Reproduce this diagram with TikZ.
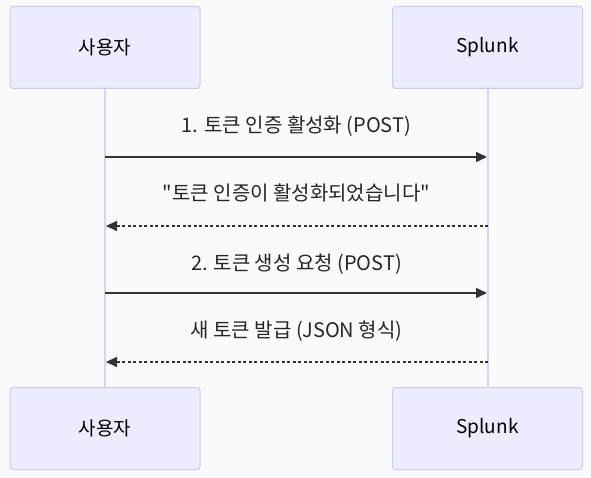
\documentclass[tikz,border=0pt]{standalone}
\usepackage{fontspec}
\setmainfont{Noto Sans CJK KR}[Ligatures=TeXOff]
\usetikzlibrary{arrows.meta}
\definecolor{bgc}{RGB}{250,250,250}
\definecolor{actfill}{RGB}{236,236,255}
\definecolor{actdraw}{RGB}{210,198,248}
\definecolor{lifec}{RGB}{220,210,248}
\definecolor{msgc}{RGB}{51,51,51}
\tikzset{
  actor/.style={draw=actdraw, line width=1pt, fill=actfill, rounded corners=3pt,
    minimum width=190pt, minimum height=82pt, inner sep=0pt,
    font=\fontsize{19}{22}\selectfont},
  lifeline/.style={draw=lifec, line width=2pt},
  msg/.style={draw=msgc, line width=1.6pt, -{Triangle[length=11pt,width=10pt]}},
  reply/.style={msg, dash pattern=on 3pt off 2.5pt},
  msglabel/.style={font=\fontsize{20}{23}\selectfont, text=black!85, inner sep=0pt}
}
\begin{document}
\begin{tikzpicture}[x=1pt,y=-1pt]
\fill[bgc] (0,0) rectangle (591,478);
\useasboundingbox (0,0) rectangle (591,478);
\node[actor] (ut) at (105,47.5) {사용자};
\node[actor] (st) at (487.5,47.5) {Splunk};
\node[actor] (ub) at (105,428.5) {사용자};
\node[actor] (sb) at (487.5,428.5) {Splunk};
\draw[lifeline] (ut.south) -- (ub.north);
\draw[lifeline] (st.south) -- (sb.north);
\coordinate (u1) at (105,157); \coordinate (s1) at (487,157);
\coordinate (u2) at (106,226); \coordinate (s2) at (488,226);
\coordinate (u3) at (105,293); \coordinate (s3) at (487,293);
\coordinate (u4) at (106,362); \coordinate (s4) at (488,362);
\draw[msg] (u1) -- (s1);
\draw[reply] (s2) -- (u2);
\draw[msg] (u3) -- (s3);
\draw[reply] (s4) -- (u4);
\node[msglabel] (l1) at (296.5,126) {1. 토큰 인증 활성화 (POST)};
\node[msglabel] (l2) at (296.5,193) {"토큰 인증이 활성화되었습니다"};
\node[msglabel] (l3) at (296.5,264) {2. 토큰 생성 요청 (POST)};
\node[msglabel] (l4) at (296.5,331) {새 토큰 발급 (JSON 형식)};
\end{tikzpicture}
\end{document}
